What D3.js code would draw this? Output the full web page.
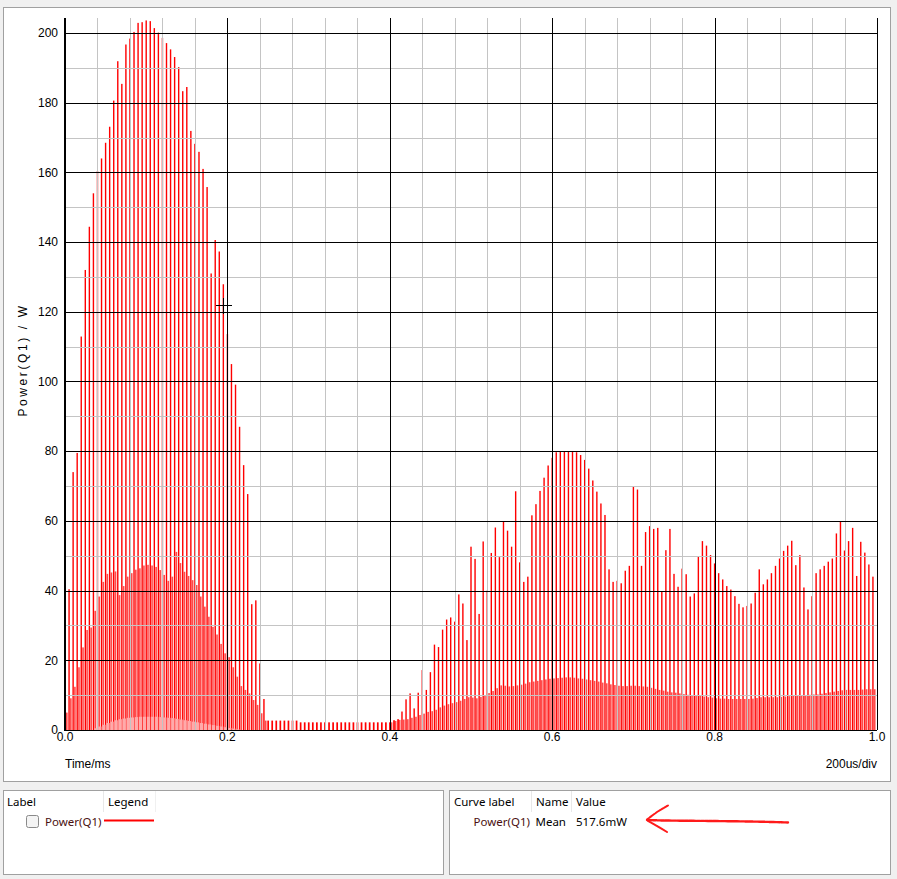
<!DOCTYPE html>
<html><head><meta charset="utf-8">
<script src="https://cdn.jsdelivr.net/npm/d3@7"></script>
<style>
html,body{margin:0;padding:0;background:#f0f0f0;}
svg{display:block;}
</style></head><body>
<svg id="c" width="897" height="879"></svg>
<script>
// ---- data ----
const PERIOD_MS = 0.005; // switching period, one entry per period
const spikeW = [
 5.0, 40.4, 74.0, 79.5, 112.9, 132.0, 144.4, 154.0, 160.4, 164.0,
 168.5, 173.1, 180.6, 191.9, 185.4, 196.7, 198.4, 200.3, 202.9, 203.1,
 203.6, 203.4, 201.4, 200.1, 198.6, 197.1, 195.3, 193.1, 190.2, 183.3,
 184.5, 171.9, 168.2, 165.9, 161.0, 155.8, 131.0, 140.6, 137.3, 127.9,
 113.6, 105.0, 99.1, 87.0, 76.0, 67.7, 36.1, 37.2, 19.1, 8.9,
 2.7, 2.7, 2.7, 2.7, 2.7, 2.7, 2.7, 2.7, 2.2, 2.2,
 2.2, 2.2, 2.2, 2.2, 2.2, 2.2, 2.2, 2.2, 2.2, 2.2,
 2.2, 2.2, 2.2, 2.2, 2.2, 2.2, 2.2, 2.2, 2.2, 2.2,
 2.2, 2.8, 3.1, 5.3, 8.8, 10.5, 6.2, 10.7, 17.2, 11.5,
 16.6, 24.5, 23.8, 28.8, 31.7, 32.3, 31.1, 38.9, 36.3, 25.8,
 52.6, 49.1, 33.3, 54.1, 40.0, 50.8, 58.1, 49.6, 59.8, 57.2,
 52.6, 68.5, 48.1, 42.5, 44.0, 61.6, 64.8, 68.6, 72.4, 75.9,
 78.1, 79.7, 80.0, 80.0, 80.0, 80.0, 79.7, 78.9, 77.5, 75.0,
 71.6, 68.4, 65.0, 61.7, 46.1, 42.5, 42.8, 42.1, 45.7, 47.1,
 69.9, 69.0, 47.1, 56.8, 58.5, 57.7, 58.0, 39.7, 51.6, 57.7,
 44.8, 41.1, 46.3, 44.7, 38.3, 39.2, 49.7, 54.2, 52.9, 50.2,
 47.8, 45.0, 43.2, 41.3, 40.3, 38.4, 36.2, 35.2, 35.6, 36.3,
 39.4, 46.1, 41.8, 43.2, 45.0, 47.1, 49.2, 51.4, 52.9, 54.3,
 47.3, 50.2, 40.9, 34.6, 38.4, 45.0, 46.1, 47.1, 48.3, 49.2,
 56.4, 59.8, 51.5, 54.2, 58.0, 44.2, 54.0, 50.9, 47.5, 44.0
];
const midW = [
 5.0, 9.1, 12.4, 18.0, 23.7, 28.7, 29.4, 34.2, 38.3, 42.5,
 44.8, 45.2, 45.5, 38.7, 41.3, 44.0, 45.0, 46.0, 46.4, 47.2,
 47.4, 47.2, 46.8, 45.9, 44.5, 42.8, 44.0, 51.1, 47.9, 45.4,
 44.2, 43.0, 41.6, 38.3, 35.4, 32.5, 29.6, 27.4, 24.7, 22.0,
 20.9, 18.0, 15.3, 12.6, 11.5, 10.5, 8.6, 7.2, 4.8, 2.7,
 0, 0, 0, 0, 0, 0, 0, 0, 0, 0,
 0, 0, 0, 0, 0, 0, 0, 0, 0, 0,
 0, 0, 0, 0, 0, 0, 0, 0, 0, 0,
 2.2, 2.6, 2.9, 3.0, 3.1, 3.5, 3.8, 4.3, 4.7, 5.2,
 5.4, 5.8, 6.5, 7.0, 7.4, 7.7, 8.0, 8.4, 8.9, 9.4,
 9.3, 9.1, 9.5, 10.0, 10.6, 11.2, 12.0, 12.8, 12.7, 12.5,
 12.6, 12.8, 13.0, 13.3, 13.7, 13.9, 14.1, 14.3, 14.5, 14.7,
 14.8, 14.9, 15.0, 15.1, 15.1, 15.0, 14.8, 14.7, 14.5, 14.3,
 14.1, 13.9, 13.6, 13.4, 13.1, 12.9, 12.7, 12.6, 12.6, 12.7,
 12.7, 12.6, 12.5, 12.4, 12.1, 11.8, 11.5, 11.3, 11.0, 10.8,
 10.7, 10.5, 10.3, 10.1, 10.0, 9.9, 9.8, 9.6, 9.4, 9.3,
 9.1, 9.0, 9.0, 8.9, 8.9, 8.9, 8.9, 8.9, 8.9, 9.0,
 9.2, 9.4, 9.4, 9.4, 9.4, 9.4, 9.5, 9.6, 9.7, 9.8,
 9.9, 10.0, 10.0, 10.1, 10.2, 10.2, 10.4, 10.6, 10.8, 11.0,
 11.2, 11.4, 11.5, 11.5, 11.5, 11.5, 11.6, 11.7, 11.7, 11.7
];
const lowW = [
 0, 0, 0, 0, 0, 0, 0, 0.5, 1.0, 1.5,
 2.0, 2.4, 2.8, 3.1, 3.3, 3.5, 3.6, 3.7, 3.8, 3.8,
 3.8, 3.8, 3.8, 3.7, 3.6, 3.5, 3.4, 3.2, 3.0, 2.8,
 2.6, 2.4, 2.2, 2.0, 1.8, 1.6, 1.4, 1.2, 1.0, 0.8,
 0.6, 0.4, 0.2
];
const xTicks = [0, 0.2, 0.4, 0.6, 0.8, 1.0];
const xTickLabels = ["0.0", "0.2", "0.4", "0.6", "0.8", "1.0"];
const yTicks = [0, 20, 40, 60, 80, 100, 120, 140, 160, 180, 200];
const xMinorTicks = [0.04, 0.08, 0.12, 0.16, 0.24, 0.28, 0.32, 0.36, 0.44, 0.48, 0.52, 0.56, 0.64, 0.68, 0.72, 0.76, 0.84, 0.88, 0.92, 0.96];
const yMinorTicks = [10, 30, 50, 70, 90, 110, 130, 150, 170, 190];
const cursorPoint = {t: 0.195, p: 122};
const seriesName = "Power(Q1)";
const measName = "Mean";
const measValue = "517.6mW";

// ---- drawing ----
const svg = d3.select("#c");
svg.append("rect").attr("width", 897).attr("height", 879).attr("fill", "#f0f0f0");
svg.append("rect").attr("x", 3.5).attr("y", 7.5).attr("width", 887).attr("height", 774)
  .attr("fill", "#fff").attr("stroke", "#a0a0a0");

const x = d3.scaleLinear().domain([0, 1]).range([65, 877]);
const y = d3.scaleLinear().domain([0, 204.3]).range([730, 18]);
const TICKFONT = "'Liberation Sans', Arial, sans-serif";
const UIFONT = "'Noto Sans', 'Open Sans', sans-serif";

const data = spikeW.map((s, k) => ({t: k * PERIOD_MS, spike: s, mid: midW[k] || 0, low: lowW[k] || 0}));
const step = x(PERIOD_MS) - x(0);

const plot = svg.append("g");
plot.selectAll("rect.mid").data(data.filter(d => d.mid > 0)).join("rect").attr("class", "mid")
  .attr("x", d => x(d.t) + 1.0).attr("width", 1.6)
  .attr("y", d => y(d.mid)).attr("height", d => y(0) - y(d.mid)).attr("fill", "#ff4a4a");
plot.selectAll("rect.spk").data(data.filter(d => d.spike > 0)).join("rect").attr("class", "spk")
  .attr("x", d => x(d.t) - 0.7).attr("width", d => d.spike < 4 ? 1.7 : 1.4)
  .attr("y", d => y(d.spike)).attr("height", d => y(0) - y(d.spike)).attr("fill", "#ff0000");
plot.selectAll("rect.low").data(data.filter(d => d.low > 0)).join("rect").attr("class", "low")
  .attr("x", d => x(d.t) + 0.8).attr("width", step - 0.8)
  .attr("y", d => y(d.low)).attr("height", d => y(0) - y(d.low)).attr("fill", "#ffaaaa");

// grid (drawn over the data, as in the reference)
const grid = svg.append("g").attr("shape-rendering", "crispEdges");
grid.selectAll("line.vm").data(xMinorTicks).join("line")
  .attr("x1", d => Math.round(x(d)) + 0.5).attr("x2", d => Math.round(x(d)) + 0.5)
  .attr("y1", y.range()[1]).attr("y2", y(0)).attr("stroke", "#c4c4c4");
grid.selectAll("line.hm").data(yMinorTicks).join("line")
  .attr("y1", d => Math.round(y(d)) + 0.5).attr("y2", d => Math.round(y(d)) + 0.5)
  .attr("x1", x(0)).attr("x2", x(1)).attr("stroke", "#c4c4c4");
grid.selectAll("line.vM").data(xTicks).join("line")
  .attr("x1", d => Math.round(x(d)) + 0.5).attr("x2", d => Math.round(x(d)) + 0.5)
  .attr("y1", y.range()[1]).attr("y2", y(0)).attr("stroke", "#000");
grid.selectAll("line.hM").data(yTicks).join("line")
  .attr("y1", d => Math.round(y(d)) + 0.5).attr("y2", d => Math.round(y(d)) + 0.5)
  .attr("x1", x(0)).attr("x2", x(1)).attr("stroke", "#000");
// left axis (thick)
grid.append("line").attr("x1", x(0)).attr("x2", x(0)).attr("y1", y.range()[1]).attr("y2", y(0) + 1)
  .attr("stroke", "#000").attr("stroke-width", 2);

// cursor cross
const cx = Math.round(x(cursorPoint.t)) + 0.5, cy = Math.round(y(cursorPoint.p)) + 0.5;
grid.append("line").attr("x1", cx - 8).attr("x2", cx + 8).attr("y1", cy).attr("y2", cy).attr("stroke", "#000");
grid.append("line").attr("x1", cx).attr("x2", cx).attr("y1", cy - 8).attr("y2", cy + 8).attr("stroke", "#000");

// tick labels
svg.append("g").selectAll("text").data(yTicks).join("text")
  .attr("x", 58).attr("y", d => y(d) + 4.3).attr("text-anchor", "end")
  .attr("font-family", TICKFONT).attr("font-size", 12).attr("fill", "#000").text(d => d);
svg.append("g").selectAll("text").data(xTicks).join("text")
  .attr("x", d => x(d)).attr("y", 741).attr("text-anchor", "middle")
  .attr("font-family", TICKFONT).attr("font-size", 12).attr("fill", "#000").text((d, i) => xTickLabels[i]);
svg.append("text").attr("x", 65).attr("y", 767.5).attr("font-family", TICKFONT).attr("font-size", 12).text("Time/ms");
svg.append("text").attr("x", 877).attr("y", 767.5).attr("text-anchor", "end").attr("font-family", TICKFONT).attr("font-size", 12).text("200us/div");
svg.append("text").attr("transform", "translate(27,360) rotate(-90)").attr("text-anchor", "middle")
  .attr("font-family", TICKFONT).attr("font-size", 12).attr("letter-spacing", 2.6).text("Power(Q1) / W");

// bottom-left legend panel
const lp = svg.append("g");
lp.append("rect").attr("x", 3.5).attr("y", 790.5).attr("width", 440).attr("height", 84).attr("fill", "#fff").attr("stroke", "#a0a0a0");
lp.append("line").attr("x1", 103.5).attr("x2", 103.5).attr("y1", 791).attr("y2", 812).attr("stroke", "#e8e8e8");
lp.append("line").attr("x1", 155.5).attr("x2", 155.5).attr("y1", 791).attr("y2", 812).attr("stroke", "#f0f0f0");
lp.append("text").attr("x", 7).attr("y", 806).attr("font-family", UIFONT).attr("font-size", 11.5).text("Label");
lp.append("text").attr("x", 108).attr("y", 806).attr("font-family", UIFONT).attr("font-size", 11.5).text("Legend");
lp.append("rect").attr("x", 26.5).attr("y", 815.5).attr("width", 12).attr("height", 12).attr("rx", 2)
  .attr("fill", "#f4f4f4").attr("stroke", "#8a8a8a");
lp.append("text").attr("x", 45).attr("y", 826).attr("font-family", UIFONT).attr("font-size", 11.5).attr("fill", "#4a1010").text(seriesName);
lp.append("line").attr("x1", 104).attr("x2", 154).attr("y1", 820.5).attr("y2", 820.5).attr("stroke", "#ff0000").attr("stroke-width", 2);

// bottom-right measurement panel
const rp = svg.append("g");
rp.append("rect").attr("x", 449.5).attr("y", 790.5).attr("width", 441).attr("height", 84).attr("fill", "#fff").attr("stroke", "#a0a0a0");
rp.append("line").attr("x1", 531.5).attr("x2", 531.5).attr("y1", 791).attr("y2", 812).attr("stroke", "#e8e8e8");
rp.append("line").attr("x1", 571.5).attr("x2", 571.5).attr("y1", 791).attr("y2", 812).attr("stroke", "#e8e8e8");
rp.append("text").attr("x", 454).attr("y", 806).attr("font-family", UIFONT).attr("font-size", 11.5).text("Curve label");
rp.append("text").attr("x", 536).attr("y", 806).attr("font-family", UIFONT).attr("font-size", 11.5).text("Name");
rp.append("text").attr("x", 576).attr("y", 806).attr("font-family", UIFONT).attr("font-size", 11.5).text("Value");
rp.append("text").attr("x", 473.5).attr("y", 826).attr("font-family", UIFONT).attr("font-size", 11.5).attr("fill", "#4a1010").text(seriesName);
rp.append("text").attr("x", 535.5).attr("y", 826).attr("font-family", UIFONT).attr("font-size", 11.5).text(measName);
rp.append("text").attr("x", 576).attr("y", 826).attr("font-family", UIFONT).attr("font-size", 11.5).text(measValue);

// hand-drawn arrow annotation
const arrow = rp.append("g").attr("fill", "none").attr("stroke", "#ff1a1a").attr("stroke-linecap", "round");
arrow.append("path").attr("d", "M788,822.5 C760,821.5 720,821 690,820.8 C670,820.6 658,820.5 647,820")
  .attr("stroke-width", 2.4).attr("stroke-dasharray", "3,1");
arrow.append("path").attr("d", "M647,819.5 L657,812 L668,805.5").attr("stroke-width", 2).attr("stroke-dasharray", "2.5,1");
arrow.append("path").attr("d", "M648,821 L657,826 L667,832").attr("stroke-width", 2).attr("stroke-dasharray", "2.5,1");
</script>
</body></html>
